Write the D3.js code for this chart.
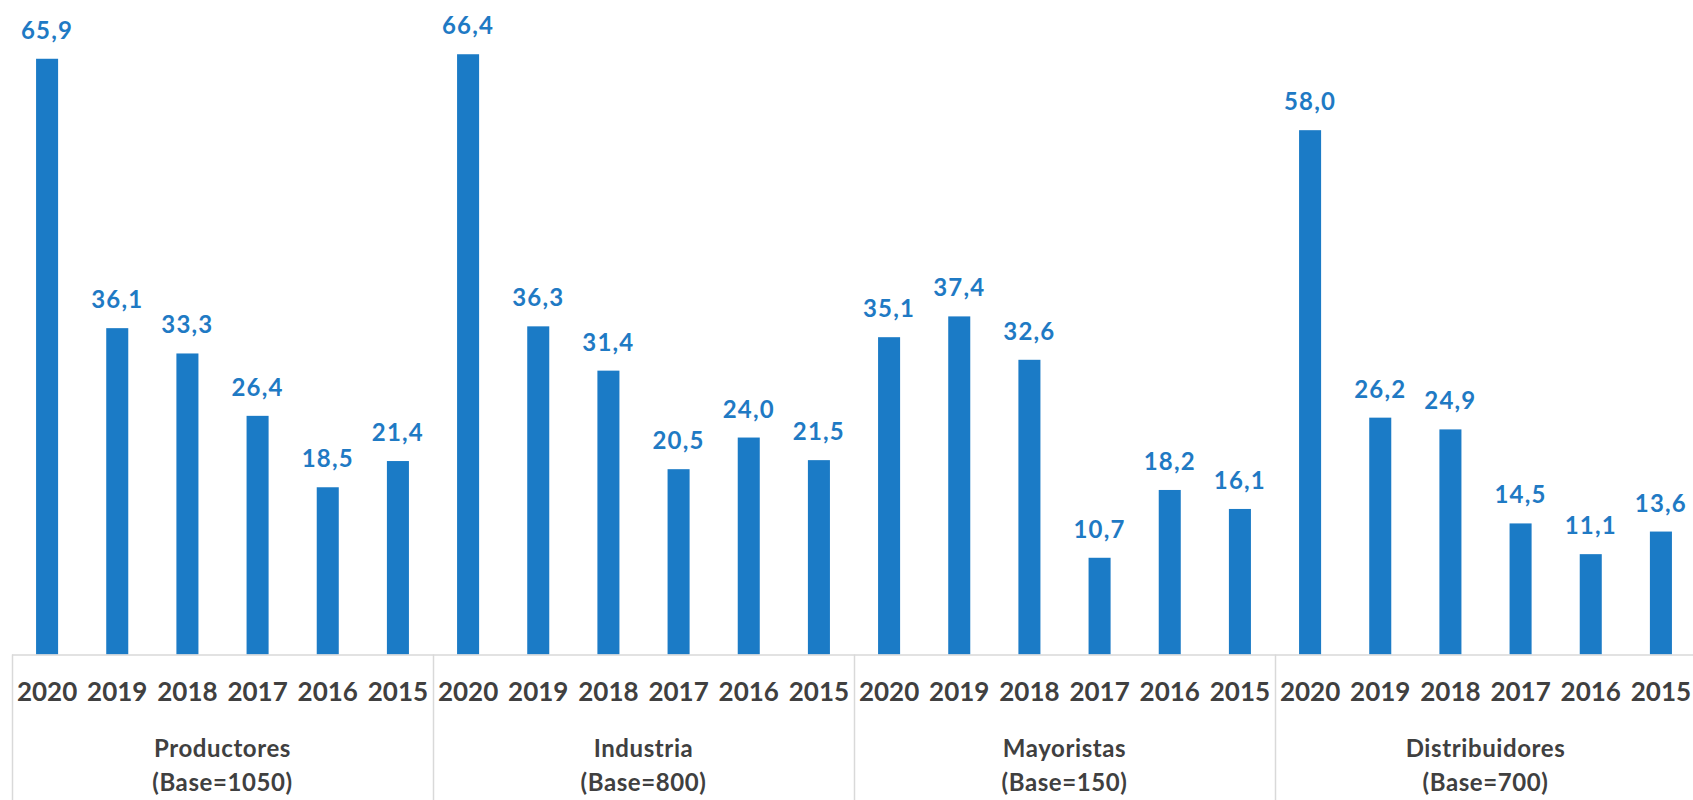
<!DOCTYPE html>
<html>
<head>
<meta charset="utf-8">
<script src="https://cdn.jsdelivr.net/npm/d3@7"></script>
<style>
  html, body { margin: 0; padding: 0; background: #fff; }
  svg { display: block; }
</style>
</head>
<body>
<svg id="chart" width="1693" height="800"></svg>
<script>
const groups = ["Productores", "Industria", "Mayoristas", "Distribuidores"];
const groupBases = ["(Base=1050)", "(Base=800)", "(Base=150)", "(Base=700)"];
const years = ["2020", "2019", "2018", "2017", "2016", "2015"];
const productores = [65.9, 36.1, 33.3, 26.4, 18.5, 21.4];
const industria = [66.4, 36.3, 31.4, 20.5, 24.0, 21.5];
const mayoristas = [35.1, 37.4, 32.6, 10.7, 18.2, 16.1];
const distribuidores = [58.0, 26.2, 24.9, 14.5, 11.1, 13.6];
const seriesValues = [productores, industria, mayoristas, distribuidores];

const svg = d3.select("#chart");
const baseY = 654.5;
const left = 12, right = 1696;
const barColor = "#1b7bc6";
const textGray = "#404040";
const lineGray = "#d9d9d9";
const font = "Lato, 'Open Sans', sans-serif";

const x0 = d3.scaleBand().domain(groups).range([left, right]).padding(0);
const x1 = d3.scaleBand().domain(years).range([0, x0.bandwidth()])
  .paddingInner(0.686).paddingOuter(0.343);
const y = d3.scaleLinear().domain([0, 70]).range([baseY, baseY - 70 * 9.04]);

const data = [];
groups.forEach((g, gi) => years.forEach((yr, yi) => data.push({ g, gi, yr, v: seriesValues[gi][yi] })));

// bars
svg.append("g").selectAll("rect").data(data).join("rect")
  .attr("x", d => x0(d.g) + x1(d.yr))
  .attr("y", d => y(d.v))
  .attr("width", x1.bandwidth())
  .attr("height", d => y(0) - y(d.v))
  .attr("fill", barColor);

// value labels
svg.append("g").selectAll("text").data(data).join("text")
  .attr("x", d => x0(d.g) + x1(d.yr) + x1.bandwidth() / 2)
  .attr("y", d => y(d.v) - 20)
  .attr("text-anchor", "middle")
  .attr("font-family", font)
  .attr("font-weight", 700)
  .attr("font-size", 24)
  .attr("letter-spacing", 1.2)
  .attr("fill", "#1f7ac4")
  .text(d => d3.format(".1f")(d.v).replace(".", ","));

// axis line
svg.append("line")
  .attr("x1", left).attr("x2", right)
  .attr("y1", baseY + 0.5).attr("y2", baseY + 0.5)
  .attr("stroke", lineGray).attr("stroke-width", 1.5);

// group separators
const seps = groups.map(g => x0(g));
svg.append("g").selectAll("line").data(seps).join("line")
  .attr("x1", d => d + 0.5).attr("x2", d => d + 0.5)
  .attr("y1", baseY).attr("y2", 800)
  .attr("stroke", lineGray).attr("stroke-width", 1.5);

// year labels
svg.append("g").selectAll("text").data(data).join("text")
  .attr("x", d => x0(d.g) + x1(d.yr) + x1.bandwidth() / 2)
  .attr("y", 701)
  .attr("text-anchor", "middle")
  .attr("font-family", font)
  .attr("font-weight", 700)
  .attr("font-size", 26)
  .attr("fill", textGray)
  .text(d => d.yr);

// group labels
const gl = svg.append("g").selectAll("text").data(groups).join("text")
  .attr("x", g => x0(g) + x0.bandwidth() / 2)
  .attr("text-anchor", "middle")
  .attr("font-family", font)
  .attr("font-weight", 700)
  .attr("font-size", 24)
  .attr("letter-spacing", 0.6)
  .attr("fill", textGray);
gl.append("tspan").attr("x", g => x0(g) + x0.bandwidth() / 2).attr("y", 757).text(g => g);
gl.append("tspan").attr("x", g => x0(g) + x0.bandwidth() / 2).attr("y", 791).text((g, i) => groupBases[i]);
</script>
</body>
</html>
